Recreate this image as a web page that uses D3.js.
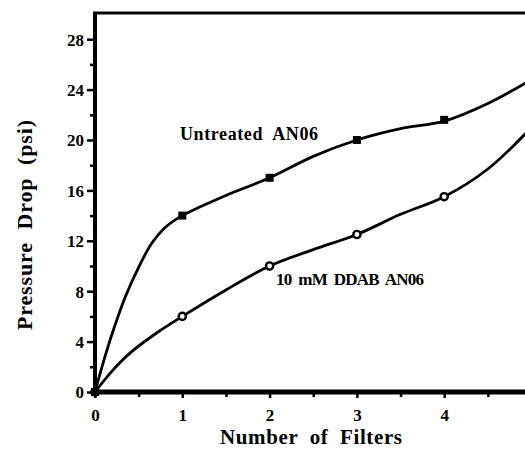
<!DOCTYPE html>
<html>
<head>
<meta charset="utf-8">
<script src="https://cdn.jsdelivr.net/npm/d3@7"></script>
<style>
  body { margin: 0; background: #fff; }
  svg text { font-family: "Liberation Serif", "Times New Roman", serif; font-weight: bold; fill: #000; white-space: pre; }
</style>
</head>
<body>
<svg id="chart" width="525" height="451"></svg>
<script>
// values
var untreatedX = [0, 0.08, 0.2, 0.35, 0.5, 0.65, 0.81, 1, 1.5, 2, 2.5, 3, 3.5, 4, 4.5, 5];
var untreatedY = [0, 2, 4.7, 7.6, 9.9, 11.8, 13.1, 14, 15.6, 17, 18.7, 20, 20.9, 21.5, 22.9, 24.8];
var ddabX = [0, 0.2, 0.42, 0.73, 1, 1.5, 2, 2.5, 3, 3.5, 4, 4.5, 5];
var ddabY = [0, 1.7, 3.2, 4.8, 6, 8.1, 10, 11.3, 12.5, 14.1, 15.5, 17.7, 21];
var markFilters = [0, 1, 2, 3, 4, 5];
var untreatedMarks = [0, 14, 17, 20, 21.6, 24.8];
var ddabMarks = [0, 6, 10, 12.5, 15.5, 21];

var svg = d3.select('#chart');

var x = d3.scaleLinear().domain([0, 5]).range([95, 531.5]);
var y = d3.scaleLinear().domain([0, 30]).range([392, 14]);

/*
 * axes: thick left and bottom lines, thin frame on top
 */
var yAxis = d3.axisLeft(y).tickValues(d3.range(0, 30, 2)).tickSize(0).tickFormat('');
var xAxis = d3.axisBottom(x).tickValues(d3.range(0, 5.01, 0.5)).tickSize(0).tickFormat('');

var gy = svg.append('g').attr('transform', 'translate(' + x(0) + ',0)');
gy.call(yAxis);
gy.select('.domain').remove();
gy.selectAll('.tick line')
    .attr('x2', function(d) { return d % 4 === 0 ? -8 : -5; })
    .attr('stroke', '#000')
    .attr('stroke-width', 2.5);
gy.selectAll('.tick')
    .filter(function(d) { return d % 4 === 0; })
    .append('text')
    .attr('x', -11)
    .attr('dy', '0.35em')
    .attr('text-anchor', 'end')
    .style('font-size', '17px')
    .text(function(d) { return d; });

var gx = svg.append('g').attr('transform', 'translate(0,' + y(0) + ')');
gx.call(xAxis);
gx.select('.domain').remove();
gx.selectAll('.tick line')
    .attr('y2', function(d) { return Number.isInteger(d) ? 6 : 5; })
    .attr('stroke', '#000')
    .attr('stroke-width', 2.5);
gx.selectAll('.tick')
    .filter(function(d) { return Number.isInteger(d); })
    .append('text')
    .attr('y', 29)
    .attr('text-anchor', 'middle')
    .style('font-size', '17px')
    .text(function(d) { return d; });

svg.append('line')
    .attr('x1', x(0)).attr('x2', 525)
    .attr('y1', y(0)).attr('y2', y(0))
    .attr('stroke', '#000').attr('stroke-width', 5);
svg.append('line')
    .attr('x1', x(0)).attr('x2', x(0))
    .attr('y1', 12).attr('y2', y(0) + 2)
    .attr('stroke', '#000').attr('stroke-width', 4);
svg.append('line')
    .attr('x1', x(0) - 2).attr('x2', 525)
    .attr('y1', 13).attr('y2', 13)
    .attr('stroke', '#000').attr('stroke-width', 3);

// axis titles
svg.append('text')
    .attr('x', 220).attr('y', 444)
    .attr('textLength', 182).attr('lengthAdjust', 'spacing')
    .style('font-size', '21px')
    .text('Number  of  Filters');
svg.append('text')
    .attr('transform', 'translate(32,330) rotate(-90)')
    .attr('textLength', 210).attr('lengthAdjust', 'spacing')
    .style('font-size', '22px')
    .text('Pressure  Drop  (psi)');

/*
 * curves and markers
 */
var line = d3.line()
    .x(function(d) { return x(d[0]); })
    .y(function(d) { return y(d[1]); })
    .curve(d3.curveCatmullRom.alpha(0.5));

var plot = svg.append('g');
plot.append('path')
    .datum(d3.zip(untreatedX, untreatedY))
    .attr('d', line)
    .attr('fill', 'none').attr('stroke', '#000').attr('stroke-width', 2.8);
plot.append('path')
    .datum(d3.zip(ddabX, ddabY))
    .attr('d', line)
    .attr('fill', 'none').attr('stroke', '#000').attr('stroke-width', 2.8);

plot.selectAll('.ci')
    .data(d3.zip(markFilters, ddabMarks))
    .enter().append('circle')
    .attr('class', 'ci')
    .attr('cx', function(d) { return x(d[0]); })
    .attr('cy', function(d) { return y(d[1]); })
    .attr('r', 3.6)
    .attr('fill', '#fff').attr('stroke', '#000').attr('stroke-width', 2.4);
plot.selectAll('.sq')
    .data(d3.zip(markFilters, untreatedMarks))
    .enter().append('rect')
    .attr('class', 'sq')
    .attr('x', function(d) { return x(d[0]) - 4; })
    .attr('y', function(d) { return y(d[1]) - 4; })
    .attr('width', 8).attr('height', 8)
    .attr('fill', '#000');

// series labels
svg.append('text')
    .attr('x', 180).attr('y', 140)
    .attr('textLength', 138).attr('lengthAdjust', 'spacing')
    .style('font-size', '18px')
    .text('Untreated  AN06');
svg.append('text')
    .attr('x', 276).attr('y', 285)
    .attr('textLength', 148).attr('lengthAdjust', 'spacing')
    .style('font-size', '17px')
    .text('10  mM  DDAB  AN06');
</script>
</body>
</html>
